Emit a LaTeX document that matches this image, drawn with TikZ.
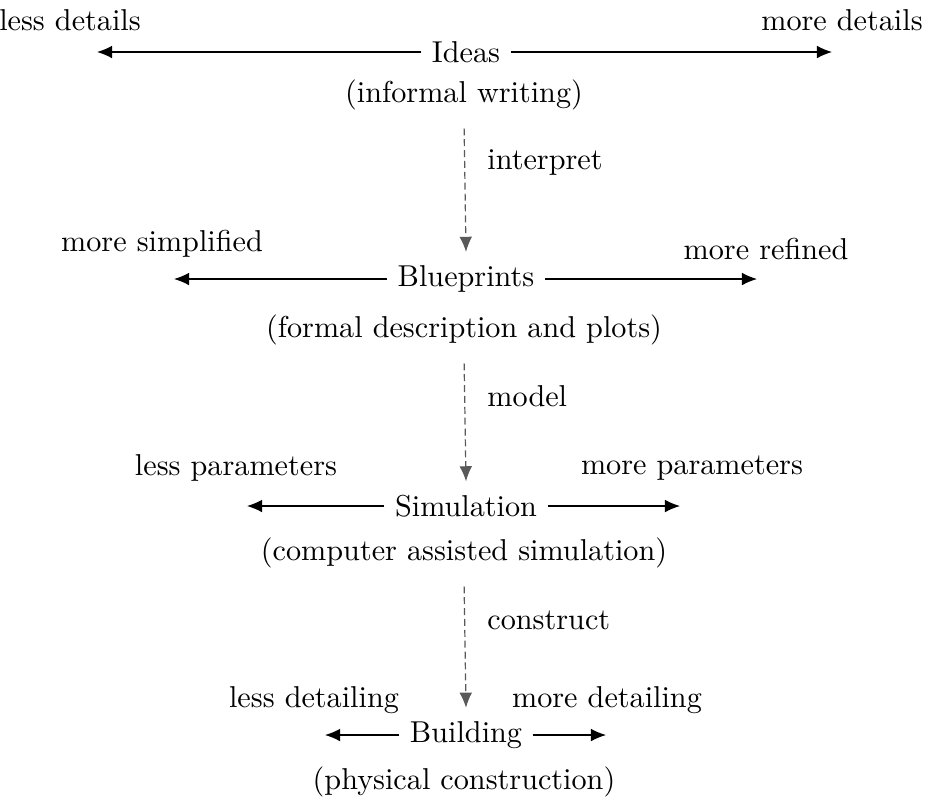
\documentclass[tikz,border=0pt]{standalone}
\usetikzlibrary{arrows.meta}
\begin{document}
\begin{tikzpicture}[x=0.331pt,y=-0.331pt,
  every node/.style={font=\normalsize},
  spread/.style={-{Latex[length=5pt,width=4.2pt]}},
  refine/.style={-{Latex[length=5pt,width=4.2pt]},dash pattern=on 2.3pt off 1.3pt,draw=black!65,
    shorten <=2.5pt},
  steplabel/.style={pos=0.32,right=4pt,black}]
\useasboundingbox (0,0) rectangle (930,800);

% level 1: ideas
\node (ideas) at (466,52) {Ideas};
\node (ideasdesc) at (464,95) {(informal writing)};
\node (lessdet) at (70,20) {less details};
\node (moredet) at (842,20) {more details};
\coordinate (ideasL) at (97,52);
\coordinate (ideasR) at (832,52);
\draw[spread] (ideas.west) -- (ideasL);
\draw[spread] (ideas.east) -- (ideasR);

% level 2: blueprints
\node (bp) at (466,279) {Blueprints};
\node (bpdesc) at (464,330) {(formal description and plots)};
\node (lesssimp) at (162,244) {more simplified};
\node (moreref) at (766,249) {more refined};
\coordinate (bpL) at (174,279);
\coordinate (bpR) at (757,279);
\draw[spread] (bp.west) -- (bpL);
\draw[spread] (bp.east) -- (bpR);

% level 3: simulation
\node (sim) at (466,506) {Simulation};
\node (simdesc) at (464,553) {(computer assisted simulation)};
\node (lesspar) at (236,468) {less parameters};
\node (morepar) at (692,468) {more parameters};
\coordinate (simL) at (247,506);
\coordinate (simR) at (680,506);
\draw[spread] (sim.west) -- (simL);
\draw[spread] (sim.east) -- (simR);

% level 4: building
\node (bld) at (466,735) {Building};
\node (blddesc) at (464,782) {(physical construction)};
\node (lessdtl) at (314,700) {less detailing};
\node (moredtl) at (607,700) {more detailing};
\coordinate (bldL) at (325,735);
\coordinate (bldR) at (606,735);
\draw[spread] (bld.west) -- (bldL);
\draw[spread] (bld.east) -- (bldR);

% refinement steps between the levels
\draw[refine] (ideasdesc.south) -- node[steplabel] {interpret} ([yshift=1pt]bp.north);
\draw[refine] (bpdesc.south) -- node[steplabel] {model} ([yshift=1pt]sim.north);
\draw[refine] (simdesc.south) -- node[steplabel] {construct} ([yshift=1pt]bld.north);
\end{tikzpicture}
\end{document}
